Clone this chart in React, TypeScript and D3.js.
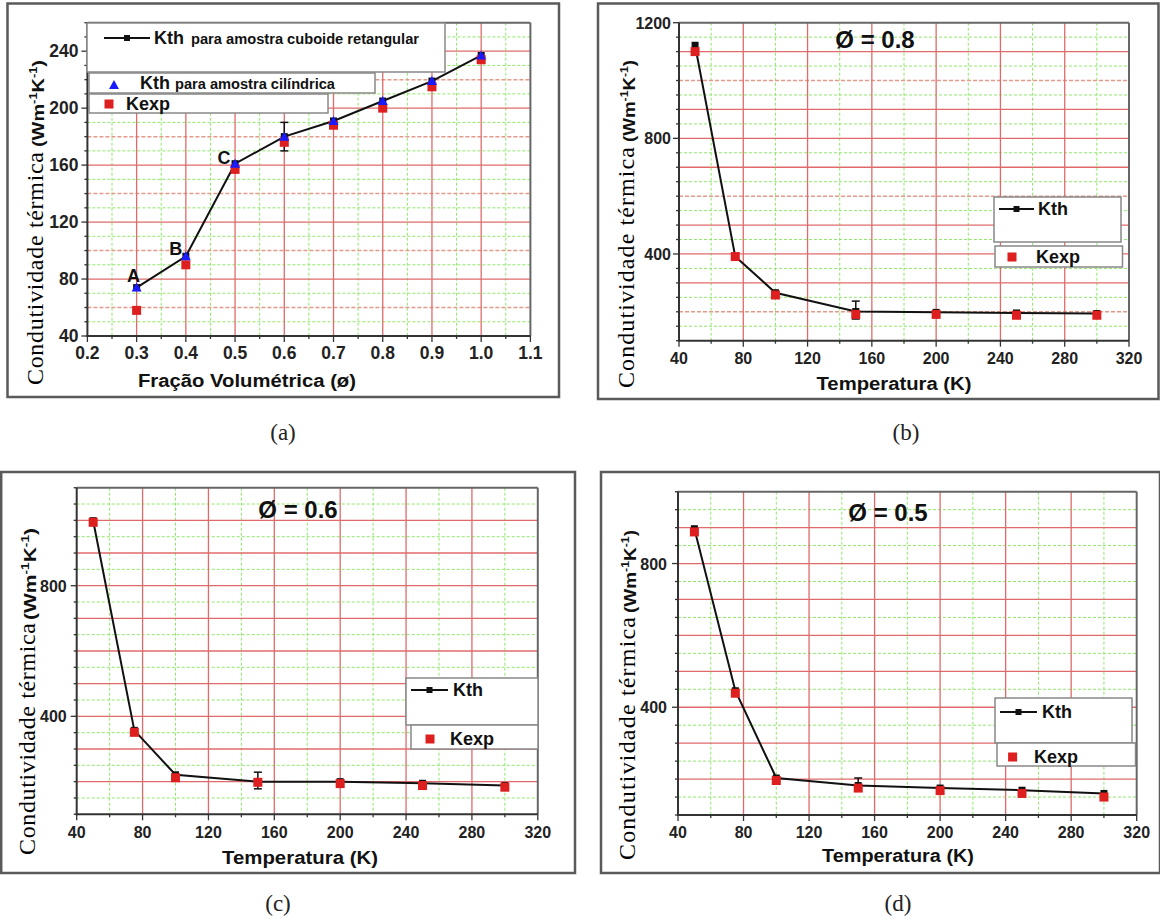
import React from 'react';
import * as d3 from 'd3';

// (a) condutividade x fração volumétrica
const fracVol = [0.3, 0.4, 0.5, 0.6, 0.7, 0.8, 0.9, 1.0];
const kthCuboide = [74, 96, 161, 180, 191, 205, 219, 237];
const kthCilindrica = [74, 96, 161, 180, 191, 205, 219, 237];
const kexpFrac = [58, 90, 157, 176, 188, 200, 215, 234];
const rotulosPontos = ['A', 'B', 'C'];
const errFrac = { x: 0.6, lo: 170, hi: 190 };

// (b)(c)(d) condutividade x temperatura
const temperaturas = [50, 75, 100, 150, 200, 250, 300];
const kth08 = [1122, 391, 266, 201, 198, 196, 194];
const kexp08 = [1100, 391, 258, 191, 191, 188, 188];
const err08 = { x: 150, lo: 175, hi: 237 };
const kth06 = [999, 357, 221, 200, 200, 195, 188];
const kexp06 = [994, 351, 212, 198, 194, 188, 183];
const err06 = { x: 150, lo: 178, hi: 229 };
const kth05 = [897, 446, 203, 182, 175, 169, 160];
const kexp05 = [888, 439, 196, 175, 168, 160, 150];
const err05 = { x: 150, lo: 166, hi: 203 };

const fracTicks = [0.2, 0.3, 0.4, 0.5, 0.6, 0.7, 0.8, 0.9, 1.0, 1.1];
const tempTicks = [40, 80, 120, 160, 200, 240, 280, 320];

const SANS = 'Liberation Sans, Arial, sans-serif';
const SERIF = 'Liberation Serif, Times New Roman, serif';
const RED = '#e06a6a';
const GREEN = '#8fe86a';
const SQ_RED = '#dd1f1f';

function YLabel({ x, y0, len, y1, ulen }) {
  return (
    <g>
      <text transform={`translate(${x},${y0}) rotate(-90)`} fontFamily={SERIF} fontSize={24}
        textLength={len} lengthAdjust="spacing" fill="#000">Condutividade térmica</text>
      <text transform={`translate(${x + 1},${y1}) rotate(-90)`} fontFamily={SANS} fontWeight="bold"
        fontSize={17} textLength={ulen} lengthAdjust="spacingAndGlyphs" fill="#111">
        (Wm<tspan fontSize={11} dy={-7}>-1</tspan><tspan dy={7}>K</tspan><tspan fontSize={11} dy={-7}>-1</tspan><tspan dy={7}>)</tspan>
      </text>
    </g>
  );
}

function KthLegend({ x0, y0, x1, y1, rowY, lx, textX, extra, extraX, extraLen }) {
  return (
    <g>
      <rect x={x0} y={y0} width={x1 - x0} height={y1 - y0} fill="#fff" stroke="#888" strokeWidth={1.5} />
      <line x1={lx[0]} x2={lx[1]} y1={rowY} y2={rowY} stroke="#111" strokeWidth={2} />
      <rect x={(lx[0] + lx[1]) / 2 - 3} y={rowY - 3} width={6} height={6} fill="#111" />
      <text x={textX} y={rowY + 6} fontFamily={SANS} fontWeight="bold" fontSize={18} fill="#111">Kth</text>
      {extra && (
        <text x={extraX} y={rowY + 6} fontFamily={SANS} fontWeight="bold" fontSize={14}
          textLength={extraLen} lengthAdjust="spacingAndGlyphs" fill="#111">{extra}</text>
      )}
    </g>
  );
}

function KexpLegend({ x0, y0, x1, y1, sx, rowY, textX }) {
  return (
    <g>
      <rect x={x0} y={y0} width={x1 - x0} height={y1 - y0} fill="#fff" stroke="#888" strokeWidth={1.5} />
      <rect x={sx - 4.5} y={rowY - 4.5} width={9} height={9} fill={SQ_RED} />
      <text x={textX} y={rowY + 6} fontFamily={SANS} fontWeight="bold" fontSize={18} fill="#111">Kexp</text>
    </g>
  );
}

function Panel({ c }) {
  const [l, t, r, b] = c.plot;
  const x = d3.scaleLinear().domain(c.xDom).range([l, r]);
  const y = d3.scaleLinear().domain(c.yDom).range([b, t]);
  const line = d3.line<number>().x((_, i) => x(c.xs[i])).y((d) => y(d));
  const [fx0, fy0, fx1, fy1] = c.frame;
  return (
    <g>
      <rect x={fx0} y={fy0} width={fx1 - fx0} height={fy1 - fy0} fill="#fff" stroke="#5a5a5a" strokeWidth={2.5} />
      {/* grade */}
      {c.gyGreen.map((v) => (
        <line key={'gg' + v} x1={l} x2={r} y1={y(v)} y2={y(v)} stroke={GREEN} strokeWidth={1} strokeDasharray="3,2" />
      ))}
      {c.gxGreen.map((v) => (
        <line key={'gx' + v} x1={x(v)} x2={x(v)} y1={t} y2={b} stroke={GREEN} strokeWidth={1} strokeDasharray="3,2" />
      ))}
      {c.gyDash.map((v) => (
        <line key={'gd' + v} x1={l} x2={r} y1={y(v)} y2={y(v)} stroke="#e39a8a" strokeWidth={1.5} strokeDasharray="4,2" />
      ))}
      {c.gyRed.map((v) => (
        <line key={'gr' + v} x1={l} x2={r} y1={y(v)} y2={y(v)} stroke={RED} strokeWidth={1.3} />
      ))}
      {c.gxRed.map((v) => (
        <line key={'gxr' + v} x1={x(v)} x2={x(v)} y1={t} y2={b} stroke={RED} strokeWidth={1.3} />
      ))}
      {/* moldura do gráfico */}
      <line x1={l} x2={r} y1={t} y2={t} stroke="#666" strokeWidth={2} />
      <line x1={r} x2={r} y1={t} y2={b} stroke="#666" strokeWidth={2} />
      <line x1={l} x2={l} y1={t} y2={b + 1} stroke="#333" strokeWidth={2} />
      <line x1={l - 1} x2={r} y1={b} y2={b} stroke="#333" strokeWidth={2} />
      {/* marcas */}
      {c.yMin.map((v) => (
        <line key={'ym' + v} x1={l - (c.yLab.includes(v) ? 6 : 3)} x2={l} y1={y(v)} y2={y(v)} stroke="#333" strokeWidth={1.3} />
      ))}
      {c.xMin.map((v) => (
        <line key={'xm' + v} x1={x(v)} x2={x(v)} y1={b} y2={b + (c.xLab.includes(v) ? 6 : 3)} stroke="#333" strokeWidth={1.3} />
      ))}
      {c.yLab.map((v) => (
        <text key={'yl' + v} x={l - c.yGap} y={y(v) + 6} textAnchor="end" fontFamily={SANS} fontWeight="bold"
          fontSize={c.tickSize} fill="#222">{v}</text>
      ))}
      {c.xLab.map((v) => (
        <text key={'xl' + v} x={x(v)} y={b + c.xGap} textAnchor="middle" fontFamily={SANS} fontWeight="bold"
          fontSize={c.tickSize} fill="#222">{c.xFmt(v)}</text>
      ))}
      {/* legendas */}
      {c.legends}
      {/* dados */}
      <path d={line(c.kth) || ''} fill="none" stroke="#111" strokeWidth={2} />
      {c.kth.map((v, i) => (
        <rect key={'k' + i} x={x(c.xs[i]) - 3.5} y={y(v) - 3.5} width={7} height={7} fill="#111" />
      ))}
      <g stroke="#111" strokeWidth={1.5}>
        <line x1={x(c.err.x)} x2={x(c.err.x)} y1={y(c.err.lo)} y2={y(c.err.hi)} />
        <line x1={x(c.err.x) - 4} x2={x(c.err.x) + 4} y1={y(c.err.lo)} y2={y(c.err.lo)} />
        <line x1={x(c.err.x) - 4} x2={x(c.err.x) + 4} y1={y(c.err.hi)} y2={y(c.err.hi)} />
      </g>
      {c.kexp.map((v, i) => (
        <rect key={'e' + i} x={x(c.xs[i]) - 4.5} y={y(v) - 4.5} width={9} height={9} fill={SQ_RED} />
      ))}
      {c.tri && c.tri.map((v, i) => {
        const px = x(c.xs[i]);
        const py = y(v);
        return <path key={'t' + i} d={`M${px},${py - 5}L${px + 5},${py + 4}L${px - 5},${py + 4}Z`} fill="#1a1aff" />;
      })}
      {c.title && (
        <text x={c.title.x} y={c.title.y} textAnchor="middle" fontFamily={SANS} fontWeight="bold" fontSize={24}
          fill="#111">{c.title.text}</text>
      )}
      {c.pointLabels && c.pointLabels.map((s, i) => {
        const off = [[-3, -6], [-10, -1], [-11, 0]][i];
        return (
          <text key={'p' + s} x={x(c.xs[i]) + off[0]} y={y(c.tri[i]) + off[1]} textAnchor="middle"
            fontFamily={SANS} fontWeight="bold" fontSize={18} fill="#111">{s}</text>
        );
      })}
      <text x={c.xTitle.x} y={c.xTitle.y} textAnchor="middle" fontFamily={SANS} fontWeight="bold" fontSize={18}
        textLength={c.xTitle.len} lengthAdjust="spacingAndGlyphs" fill="#111">{c.xTitle.text}</text>
      <YLabel {...c.yLabel} />
      <text x={c.sub.x} y={c.sub.y} textAnchor="middle" fontFamily={SERIF} fontSize={23} fill="#222">{c.sub.text}</text>
    </g>
  );
}

const tempGrid = {
  xDom: [40, 320], xLab: tempTicks, xMin: d3.range(40, 321, 20), xFmt: (v) => String(v),
  gxRed: [80, 120, 160, 200, 240, 280], gxGreen: [60, 100, 140, 180, 220, 260, 300],
  tickSize: 16, xs: temperaturas,
};

export default function App() {
  const panels = [
    {
      frame: [7.5, 3.5, 559, 397], plot: [87.4, 22.7, 530.4, 336],
      xDom: [0.2, 1.1], yDom: [40, 260], xLab: fracTicks, xMin: d3.range(0.2, 1.101, 0.05).map((v) => +v.toFixed(2)),
      xFmt: (v) => v.toFixed(1), yLab: [40, 80, 120, 160, 200, 240], yMin: d3.range(40, 261, 10),
      gxRed: [0.3, 0.4, 0.5, 0.6, 0.7, 0.8, 0.9, 1.0], gxGreen: [0.25, 0.35, 0.45, 0.55, 0.65, 0.75, 0.85, 0.95, 1.05],
      gyRed: [80, 120, 160, 200, 240], gyDash: [60, 100, 140, 180, 220], gyGreen: d3.range(50, 260, 20),
      tickSize: 17.5, yGap: 9, xGap: 23,
      xs: fracVol, kth: kthCuboide, kexp: kexpFrac, tri: kthCilindrica, err: errFrac, pointLabels: rotulosPontos,
      xTitle: { text: 'Fração Volumétrica (ø)', x: 247, y: 387, len: 218 },
      yLabel: { x: 43, y0: 385, len: 233, y1: 147, ulen: 87 },
      sub: { text: '(a)', x: 283, y: 440 },
      legends: (
        <g>
          <KthLegend x0={87} y0={23} x1={445} y1={72} rowY={38} lx={[104, 150]} textX={154}
            extra="para amostra cuboide retangular" extraX={191} extraLen={228} />
          <rect x={89} y={73} width={286} height={20} fill="#fff" stroke="#888" strokeWidth={1.5} />
          <path d="M114,80L119,89L109,89Z" fill="#1a1aff" />
          <text x={140} y={89} fontFamily={SANS} fontWeight="bold" fontSize={18} fill="#111">Kth</text>
          <text x={175} y={89} fontFamily={SANS} fontWeight="bold" fontSize={14} textLength={160}
            lengthAdjust="spacingAndGlyphs" fill="#111">para amostra cilíndrica</text>
          <KexpLegend x0={89} y0={94} x1={328} y1={113} sx={109} rowY={104} textX={126} />
        </g>
      ),
    },
    {
      ...tempGrid,
      frame: [598, 3.5, 1158.5, 399], plot: [679, 22.7, 1129, 340.7], yDom: [100, 1200],
      yLab: [400, 800, 1200], yMin: d3.range(100, 1201, 50),
      gyRed: [300, 400, 500, 700, 800, 900, 1100], gyDash: [200, 600, 1000], gyGreen: d3.range(150, 1200, 100),
      yGap: 8, xGap: 23,
      kth: kth08, kexp: kexp08, err: err08,
      title: { text: 'Ø = 0.8', x: 875, y: 48 },
      xTitle: { text: 'Temperatura (K)', x: 894, y: 390, len: 155 },
      yLabel: { x: 634, y0: 388, len: 241, y1: 142, ulen: 82 },
      sub: { text: '(b)', x: 906, y: 440 },
      legends: (
        <g>
          <KthLegend x0={994} y0={197} x1={1121} y1={242} rowY={209} lx={[999, 1034]} textX={1038} />
          <KexpLegend x0={995} y0={246} x1={1122.5} y1={267} sx={1012} rowY={257} textX={1036} />
        </g>
      ),
    },
    {
      ...tempGrid,
      frame: [1.2, 472, 575, 873], plot: [76.7, 487.7, 537.8, 814.3], yDom: [100, 1100],
      yLab: [400, 800], yMin: d3.range(100, 1101, 50),
      gyRed: d3.range(200, 1001, 100), gyDash: [], gyGreen: d3.range(150, 1100, 100),
      yGap: 10, xGap: 24,
      kth: kth06, kexp: kexp06, err: err06,
      title: { text: 'Ø = 0.6', x: 298, y: 518 },
      xTitle: { text: 'Temperatura (K)', x: 300, y: 864, len: 156 },
      yLabel: { x: 35, y0: 855, len: 232, y1: 620, ulen: 92 },
      sub: { text: '(c)', x: 278, y: 911 },
      legends: (
        <g>
          <KthLegend x0={406} y0={678} x1={538} y1={725} rowY={690} lx={[411, 448]} textX={453} />
          <KexpLegend x0={411} y0={725} x1={538} y1={749} sx={430} rowY={739} textX={450} />
        </g>
      ),
    },
    {
      ...tempGrid,
      frame: [601, 472, 1160, 873], plot: [678, 491.7, 1136.7, 815], yDom: [100, 1000],
      yLab: [400, 800], yMin: d3.range(100, 1001, 50),
      gyRed: d3.range(200, 901, 100), gyDash: [], gyGreen: d3.range(150, 1000, 100),
      yGap: 11, xGap: 23,
      kth: kth05, kexp: kexp05, err: err05,
      title: { text: 'Ø = 0.5', x: 888, y: 521 },
      xTitle: { text: 'Temperatura (K)', x: 898, y: 862, len: 152 },
      yLabel: { x: 635, y0: 860, len: 243, y1: 613, ulen: 83 },
      sub: { text: '(d)', x: 898, y: 911 },
      legends: (
        <g>
          <KthLegend x0={995} y0={698} x1={1132} y1={743} rowY={712} lx={[1000, 1037]} textX={1042} />
          <KexpLegend x0={997} y0={743} x1={1135.5} y1={766} sx={1012.6} rowY={757} textX={1034} />
        </g>
      ),
    },
  ];
  return (
    <svg width={1160} height={919} style={{ display: 'block', position: 'absolute', left: 0, top: 0 }}>
      <rect width={1160} height={919} fill="#fff" />
      {panels.map((c, i) => <Panel key={i} c={c} />)}
    </svg>
  );
}
